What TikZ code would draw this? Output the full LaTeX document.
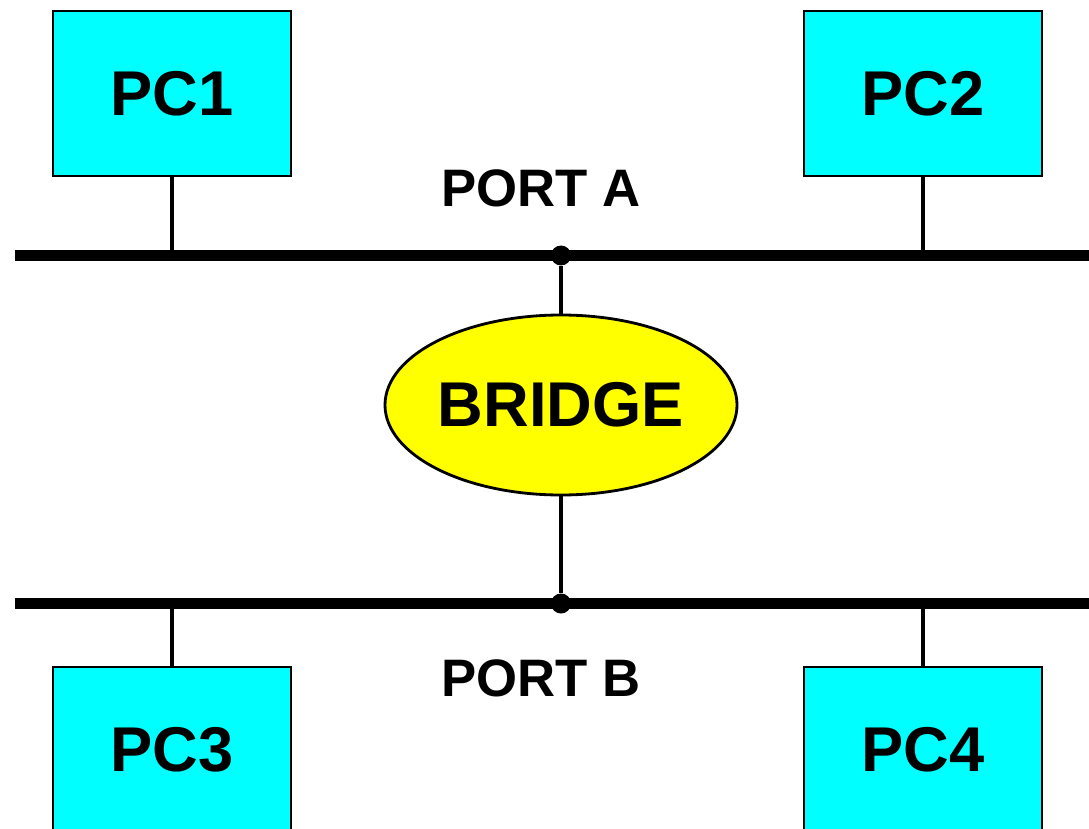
\documentclass[tikz,border=0pt]{standalone}
\usepackage{fontspec}
\setmainfont{Liberation Sans}
\usetikzlibrary{positioning,shapes}
\definecolor{pccyan}{RGB}{0,255,255}
\definecolor{bryellow}{RGB}{255,255,0}

\begin{document}
\begin{tikzpicture}[
        pcbox/.style={draw, line width=0.8pt, fill=pccyan, minimum width=2.38cm, minimum height=1.65cm, font=\fontsize{18}{21}\selectfont\bfseries},
        bus/.style={line width=2.9pt},
        drop/.style={line width=1.1pt},
        junction/.style={circle, fill, inner sep=0pt, minimum size=0.2cm},
        portlabel/.style={font=\fontsize{15}{18}\selectfont\bfseries}
    ]
            \useasboundingbox (0,0) rectangle (10.89,8.28);

            \node[pcbox] (PC1) at (1.72,7.345) {PC1};
            \node[pcbox] (PC2) at (9.23,7.345) {PC2};
            \node[pcbox] (PC3) at (1.72,0.785) {PC3};
            \node[pcbox] (PC4) at (9.23,0.785) {PC4};

            \node[draw, ellipse, line width=0.8pt, fill=bryellow, inner sep=0pt, minimum width=3.52cm, minimum height=1.80cm, font=\fontsize{18}{21}\selectfont\bfseries] (BR) at (5.61,4.23) {BRIDGE};

            \coordinate (AW) at (0.15,5.725);
            \coordinate (AE) at (10.89,5.725);
            \coordinate (BW) at (0.15,2.245);
            \coordinate (BE) at (10.89,2.245);

            \node[junction] (JA) at (5.61,5.725) {};
            \node[junction] (JB) at (5.61,2.245) {};

            \node[portlabel] (PA) at (5.41,6.40) {PORT A};
            \node[portlabel] (PB) at (5.41,1.50) {PORT B};

            \draw[bus] (AW) -- (AE);
            \draw[bus] (BW) -- (BE);

            \draw[drop] (PC1.south) -- (PC1.south |- AW);
            \draw[drop] (PC2.south) -- (PC2.south |- AE);
            \draw[drop] (PC3.north) -- (PC3.north |- BW);
            \draw[drop] (PC4.north) -- (PC4.north |- BE);

            \draw[drop] (JA) -- (BR);
            \draw[drop] (JB) -- (BR);
        \end{tikzpicture}
\end{document}
